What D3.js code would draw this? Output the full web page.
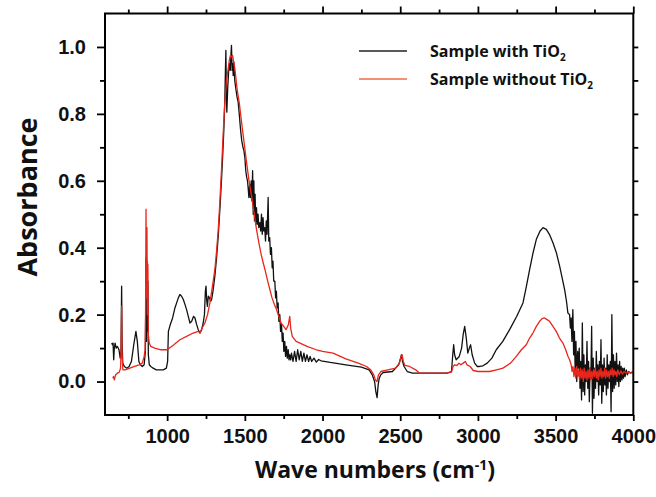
<!DOCTYPE html>
<html>
<head>
<meta charset="utf-8">
<script src="https://cdn.jsdelivr.net/npm/d3@7"></script>
<style>
  body { margin: 0; background: #fff; }
  svg { display: block; font-family: "Open Sans", "DejaVu Sans", sans-serif; }
</style>
</head>
<body>
<svg id="chart" width="656" height="497"></svg>
<script>
// FTIR spectra (wavenumber in cm-1, absorbance)
const withWn = [643, 648, 652, 656, 660, 665, 672, 680, 690, 698, 703, 707, 710, 714, 725, 740, 755, 770, 785, 799, 808, 818, 828, 840, 852, 860, 864, 867, 870, 873, 876, 879, 885, 895, 910, 930, 950, 975, 995, 1003, 1008, 1020, 1035, 1050, 1061, 1072, 1082, 1093, 1104, 1115, 1125, 1136, 1147, 1158, 1170, 1179, 1190, 1200, 1211, 1222, 1232, 1240, 1246, 1250, 1255, 1259, 1265, 1272, 1280, 1286, 1295, 1307, 1318, 1329, 1340, 1350, 1358, 1365, 1371, 1375, 1378, 1381, 1384, 1390, 1396, 1401, 1406, 1411, 1414, 1418, 1422, 1425, 1429, 1435, 1442, 1450, 1457, 1464, 1472, 1480, 1488, 1494, 1500, 1506, 1512, 1517, 1521, 1526, 1531, 1536, 1541, 1546, 1550, 1554, 1558, 1562, 1566, 1570, 1575, 1580, 1585, 1590, 1597, 1602, 1607, 1612, 1617, 1622, 1628, 1633, 1638, 1643, 1650, 1654, 1660, 1665, 1671, 1676, 1681, 1686, 1693, 1698, 1703, 1708, 1714, 1719, 1725, 1730, 1736, 1741, 1746, 1751, 1757, 1762, 1768, 1773, 1779, 1784, 1789, 1795, 1800, 1810, 1820, 1830, 1840, 1850, 1860, 1870, 1880, 1890, 1900, 1910, 1920, 1930, 1945, 1960, 1975, 1990, 2050, 2150, 2250, 2300, 2320, 2335, 2343, 2351, 2358, 2365, 2375, 2390, 2450, 2490, 2500, 2508, 2515, 2525, 2545, 2580, 2650, 2750, 2800, 2830, 2838, 2844, 2850, 2860, 2880, 2895, 2905, 2915, 2925, 2935, 2945, 2953, 2963, 2979, 2995, 3011, 3032, 3060, 3090, 3118, 3160, 3204, 3250, 3290, 3310, 3333, 3355, 3376, 3400, 3419, 3440, 3460, 3483, 3505, 3526, 3542, 3558, 3570, 3579, 3590, 3595, 3600, 3605, 3611, 3616, 3621, 3626, 3631, 3636, 3642, 3647, 3652, 3657, 3662, 3667, 3672, 3677, 3682, 3687, 3692, 3697, 3702, 3707, 3712, 3717, 3722, 3727, 3732, 3737, 3742, 3747, 3752, 3757, 3762, 3767, 3772, 3777, 3782, 3787, 3792, 3797, 3802, 3807, 3812, 3817, 3822, 3827, 3832, 3837, 3842, 3847, 3852, 3857, 3862, 3867, 3872, 3877, 3882, 3887, 3892, 3897, 3902, 3907, 3912, 3917, 3922, 3927, 3932, 3937, 3942, 3947, 3955, 3962, 3970, 3980, 3990, 4000];
const withAbs = [0.115, 0.11, 0.115, 0.065, 0.1, 0.115, 0.1, 0.105, 0.095, 0.07, 0.09, 0.285, 0.12, 0.055, 0.045, 0.04, 0.045, 0.06, 0.11, 0.15, 0.12, 0.06, 0.05, 0.045, 0.05, 0.09, 0.37, 0.12, 0.36, 0.15, 0.3, 0.08, 0.05, 0.045, 0.04, 0.035, 0.035, 0.035, 0.04, 0.06, 0.15, 0.17, 0.19, 0.22, 0.235, 0.25, 0.26, 0.255, 0.245, 0.23, 0.215, 0.195, 0.175, 0.18, 0.195, 0.19, 0.17, 0.155, 0.145, 0.155, 0.175, 0.2, 0.27, 0.285, 0.24, 0.225, 0.255, 0.25, 0.24, 0.245, 0.27, 0.315, 0.37, 0.435, 0.52, 0.605, 0.68, 0.755, 0.84, 0.93, 0.99, 0.86, 0.805, 0.88, 0.93, 0.95, 0.93, 0.98, 1.005, 0.93, 0.95, 0.915, 0.955, 0.9, 0.875, 0.85, 0.835, 0.8, 0.755, 0.72, 0.7, 0.69, 0.67, 0.63, 0.61, 0.6, 0.58, 0.55, 0.59, 0.55, 0.6, 0.54, 0.63, 0.5, 0.6, 0.48, 0.56, 0.47, 0.52, 0.47, 0.5, 0.46, 0.475, 0.45, 0.5, 0.44, 0.49, 0.45, 0.46, 0.42, 0.48, 0.44, 0.55, 0.42, 0.43, 0.38, 0.4, 0.34, 0.36, 0.3, 0.3, 0.25, 0.27, 0.22, 0.235, 0.18, 0.2, 0.15, 0.17, 0.12, 0.145, 0.09, 0.12, 0.075, 0.105, 0.07, 0.095, 0.065, 0.08, 0.065, 0.085, 0.06, 0.09, 0.06, 0.095, 0.065, 0.09, 0.06, 0.085, 0.06, 0.08, 0.06, 0.075, 0.06, 0.07, 0.058, 0.066, 0.062, 0.057, 0.05, 0.043, 0.035, 0.02, 0.0, -0.03, -0.048, -0.01, 0.01, 0.02, 0.027, 0.03, 0.05, 0.065, 0.08, 0.06, 0.045, 0.03, 0.025, 0.025, 0.025, 0.025, 0.03, 0.08, 0.11, 0.08, 0.065, 0.075, 0.1, 0.14, 0.165, 0.13, 0.085, 0.1, 0.11, 0.08, 0.055, 0.045, 0.045, 0.047, 0.055, 0.07, 0.095, 0.12, 0.155, 0.195, 0.235, 0.28, 0.335, 0.385, 0.425, 0.45, 0.46, 0.455, 0.44, 0.415, 0.385, 0.345, 0.31, 0.275, 0.24, 0.205, 0.2, 0.16, 0.19, 0.12, 0.215, 0.08, 0.15, 0.03, 0.12, 0.0, 0.09, 0.04, 0.1, -0.02, 0.06, -0.055, 0.175, -0.03, 0.08, -0.04, 0.05, 0.0, 0.12, -0.02, 0.06, -0.06, 0.04, 0.01, 0.165, -0.095, 0.07, -0.05, 0.04, -0.02, 0.09, 0.0, 0.05, -0.04, 0.06, -0.01, 0.125, -0.065, 0.05, -0.03, 0.07, -0.01, 0.04, -0.04, 0.08, -0.02, 0.05, 0.0, 0.06, -0.09, 0.2, -0.03, 0.08, -0.02, 0.06, -0.01, 0.085, 0.0, 0.05, -0.015, 0.06, 0.0, 0.045, 0.005, 0.04, 0.01, 0.04, 0.015, 0.035, 0.02, 0.03, 0.025, 0.028, 0.027];

const withoutWn = [650, 655, 660, 668, 680, 692, 700, 704, 707, 710, 715, 730, 760, 790, 820, 840, 852, 858, 861, 864, 867, 870, 873, 876, 879, 885, 895, 920, 960, 1000, 1043, 1082, 1125, 1168, 1200, 1211, 1225, 1243, 1260, 1275, 1290, 1307, 1318, 1329, 1340, 1350, 1360, 1371, 1382, 1393, 1400, 1407, 1414, 1421, 1428, 1436, 1443, 1450, 1465, 1479, 1495, 1511, 1527, 1543, 1559, 1575, 1590, 1605, 1618, 1632, 1647, 1661, 1675, 1690, 1704, 1718, 1733, 1750, 1765, 1780, 1789, 1795, 1805, 1830, 1855, 1900, 1960, 2000, 2068, 2150, 2230, 2283, 2310, 2330, 2340, 2350, 2360, 2375, 2420, 2470, 2495, 2505, 2512, 2520, 2530, 2560, 2600, 2625, 2700, 2800, 2830, 2840, 2850, 2865, 2878, 2890, 2905, 2919, 2930, 2950, 2970, 3000, 3075, 3120, 3161, 3210, 3247, 3280, 3311, 3333, 3354, 3376, 3397, 3413, 3429, 3445, 3461, 3483, 3504, 3525, 3547, 3565, 3580, 3590, 3600, 3606, 3612, 3618, 3624, 3630, 3636, 3642, 3648, 3654, 3660, 3666, 3672, 3678, 3684, 3690, 3696, 3702, 3708, 3714, 3720, 3726, 3732, 3738, 3744, 3750, 3756, 3762, 3768, 3774, 3780, 3786, 3792, 3798, 3804, 3810, 3816, 3822, 3828, 3834, 3840, 3846, 3852, 3858, 3864, 3870, 3876, 3882, 3888, 3894, 3900, 3910, 3920, 3930, 3940, 3955, 3970, 3985, 4000];
const withoutAbs = [0.01, 0.015, 0.005, 0.02, 0.025, 0.028, 0.04, 0.1, 0.225, 0.08, 0.035, 0.035, 0.04, 0.045, 0.05, 0.055, 0.075, 0.095, 0.2, 0.515, 0.25, 0.46, 0.2, 0.35, 0.14, 0.115, 0.105, 0.1, 0.095, 0.095, 0.11, 0.125, 0.135, 0.145, 0.15, 0.145, 0.16, 0.175, 0.2, 0.235, 0.28, 0.335, 0.39, 0.455, 0.545, 0.635, 0.735, 0.835, 0.9, 0.935, 0.96, 0.975, 0.97, 0.975, 0.955, 0.935, 0.905, 0.875, 0.83, 0.775, 0.715, 0.655, 0.6, 0.555, 0.505, 0.455, 0.415, 0.38, 0.355, 0.33, 0.3, 0.275, 0.25, 0.23, 0.215, 0.195, 0.175, 0.165, 0.155, 0.17, 0.195, 0.16, 0.135, 0.12, 0.115, 0.105, 0.095, 0.09, 0.085, 0.068, 0.055, 0.045, 0.035, 0.02, 0.005, 0.0, 0.02, 0.03, 0.035, 0.04, 0.055, 0.075, 0.08, 0.06, 0.048, 0.045, 0.035, 0.025, 0.025, 0.025, 0.028, 0.045, 0.05, 0.048, 0.055, 0.05, 0.055, 0.06, 0.05, 0.045, 0.033, 0.03, 0.03, 0.035, 0.04, 0.055, 0.075, 0.095, 0.11, 0.13, 0.145, 0.165, 0.18, 0.188, 0.19, 0.185, 0.18, 0.165, 0.15, 0.13, 0.115, 0.095, 0.075, 0.065, 0.05, 0.03, 0.045, 0.015, 0.04, 0.01, 0.045, 0.015, 0.035, 0.005, 0.04, 0.01, 0.035, 0.0, 0.04, 0.01, 0.03, 0.005, 0.035, 0.01, 0.04, 0.005, 0.03, 0.01, 0.035, 0.015, 0.04, 0.01, 0.03, 0.005, 0.035, 0.015, 0.04, 0.01, 0.03, 0.015, 0.04, 0.01, 0.035, 0.015, 0.03, 0.01, 0.035, 0.02, 0.04, 0.015, 0.035, 0.02, 0.03, 0.015, 0.035, 0.02, 0.032, 0.022, 0.03, 0.025, 0.028, 0.026, 0.027];

const xMajor = [1000, 1500, 2000, 2500, 3000, 3500, 4000];
const xMinor = [750, 1250, 1750, 2250, 2750, 3250, 3750];
const yMajor = [0.0, 0.2, 0.4, 0.6, 0.8, 1.0];
const yMinor = [0.1, 0.3, 0.5, 0.7, 0.9];
const yRight = [0.0, 0.1, 0.2, 0.3, 0.4, 0.5, 0.6, 0.7, 0.8, 0.9, 1.0];

const seriesNames = ["Sample with TiO", "Sample without TiO"];
const seriesColors = ["#111111", "#e8261c"];

const svg = d3.select("#chart");
const plotLeft = 105, plotRight = 633.3, plotTop = 13.5, plotBottom = 415;

const x = d3.scaleLinear().domain([600, 4000]).range([plotLeft, plotRight]);
const y = d3.scaleLinear().domain([-0.1, 1.1]).range([plotBottom, plotTop]);

const line = d3
  .line()
  .x((d) => x(d[0]))
  .y((d) => y(d[1]));

const series = [
  d3.zip(withWn, withAbs),
  d3.zip(withoutWn, withoutAbs),
];

svg
  .append("defs")
  .append("clipPath")
  .attr("id", "plotClip")
  .append("rect")
  .attr("x", plotLeft)
  .attr("y", plotTop)
  .attr("width", plotRight - plotLeft)
  .attr("height", plotBottom - plotTop);

// black first, red drawn over it
svg
  .append("g")
  .attr("clip-path", "url(#plotClip)")
  .selectAll("path")
  .data(series)
  .enter()
  .append("path")
  .attr("fill", "none")
  .attr("stroke", (d, i) => seriesColors[i])
  .attr("stroke-width", 1.3)
  .attr("stroke-linejoin", "round")
  .attr("d", line);

const styleAxis = (g) => {
  g.select(".domain").remove();
  g.selectAll(".tick line").attr("stroke", "#000").attr("stroke-width", 1.8);
  g.selectAll(".tick text")
    .attr("fill", "#111")
    .style("font-size", "20px")
    .style("font-weight", 700);
};

svg
  .append("g")
  .attr("transform", `translate(0,${plotBottom})`)
  .call(d3.axisBottom(x).tickValues(xMajor).tickSize(6).tickPadding(8).tickFormat(d3.format("d")))
  .call(styleAxis);
svg
  .append("g")
  .attr("transform", `translate(0,${plotBottom})`)
  .call(d3.axisBottom(x).tickValues(xMinor).tickSize(4).tickFormat(""))
  .call(styleAxis);
svg
  .append("g")
  .attr("transform", `translate(0,${plotTop})`)
  .call(d3.axisTop(x).tickValues(xMajor).tickSize(7).tickFormat(""))
  .call(styleAxis);
svg
  .append("g")
  .attr("transform", `translate(0,${plotTop})`)
  .call(d3.axisTop(x).tickValues(xMinor).tickSize(4).tickFormat(""))
  .call(styleAxis);
svg
  .append("g")
  .attr("transform", `translate(${plotLeft},0)`)
  .call(d3.axisLeft(y).tickValues(yMajor).tickSize(8).tickPadding(11).tickFormat(d3.format(".1f")))
  .call(styleAxis);
svg
  .append("g")
  .attr("transform", `translate(${plotLeft},0)`)
  .call(d3.axisLeft(y).tickValues(yMinor).tickSize(5).tickFormat(""))
  .call(styleAxis);
svg
  .append("g")
  .attr("transform", `translate(${plotRight},0)`)
  .call(d3.axisRight(y).tickValues(yRight).tickSize(5).tickFormat(""))
  .call(styleAxis);

svg
  .append("rect")
  .attr("x", plotLeft)
  .attr("y", plotTop)
  .attr("width", plotRight - plotLeft)
  .attr("height", plotBottom - plotTop)
  .attr("fill", "none")
  .attr("stroke", "#000")
  .attr("stroke-width", 2);

// axis titles
svg
  .append("text")
  .attr("transform", "translate(37,197) rotate(-90)")
  .attr("text-anchor", "middle")
  .attr("fill", "#111")
  .style("font-size", "27px")
  .style("font-weight", 700)
  .text("Absorbance");

const xTitle = svg
  .append("text")
  .attr("x", 375)
  .attr("y", 478)
  .attr("text-anchor", "middle")
  .attr("fill", "#111")
  .style("font-size", "23px")
  .style("font-weight", 700);
xTitle.append("tspan").text("Wave numbers (cm");
xTitle.append("tspan").attr("dy", -8).style("font-size", "14px").text("-1");
xTitle.append("tspan").attr("dy", 8).text(")");

// legend
const legend = svg
  .append("g")
  .selectAll("g")
  .data(seriesNames)
  .enter()
  .append("g")
  .attr("transform", (d, i) => `translate(359,${51 + i * 28})`);

legend
  .append("line")
  .attr("x1", 0)
  .attr("x2", 48)
  .attr("stroke", (d, i) => (i === 0 ? "#222" : "#f06a4a"))
  .attr("stroke-width", 1.5);

const legendText = legend
  .append("text")
  .attr("x", 71)
  .attr("y", 6)
  .attr("fill", "#111")
  .style("font-size", "16px")
  .style("font-weight", 700);
legendText.append("tspan").text((d) => d);
legendText.append("tspan").attr("dy", 4).style("font-size", "10px").text("2");
</script>
</body>
</html>
